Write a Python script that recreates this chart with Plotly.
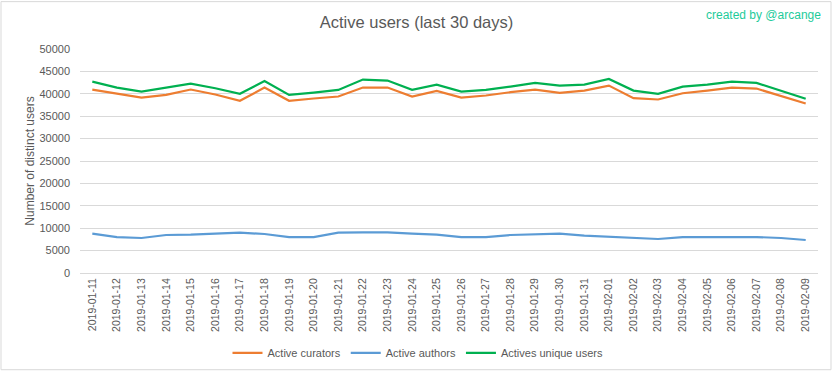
import plotly.graph_objects as go

dates = ["2019-01-11", "2019-01-12", "2019-01-13", "2019-01-14", "2019-01-15", "2019-01-16",
         "2019-01-17", "2019-01-18", "2019-01-19", "2019-01-20", "2019-01-21", "2019-01-22",
         "2019-01-23", "2019-01-24", "2019-01-25", "2019-01-26", "2019-01-27", "2019-01-28",
         "2019-01-29", "2019-01-30", "2019-01-31", "2019-02-01", "2019-02-02", "2019-02-03",
         "2019-02-04", "2019-02-05", "2019-02-06", "2019-02-07", "2019-02-08", "2019-02-09"]

active_curators = [40950, 40000, 39170, 39760, 40950, 39840, 38430, 41390, 38430, 38950,
                   39400, 41390, 41390, 39400, 40650, 39170, 39620, 40360, 40950, 40210,
                   40720, 41830, 39020, 38730, 40130, 40720, 41390, 41170, 39470, 37840]

active_authors = [8770, 8030, 7810, 8480, 8550, 8770, 8990, 8700, 8030, 8030,
                  8990, 9070, 9070, 8770, 8550, 8030, 8030, 8480, 8550, 8770,
                  8330, 8030, 7810, 7590, 8030, 8030, 8030, 8030, 7810, 7370]

unique_users = [42720, 41390, 40500, 41390, 42280, 41240, 39990, 42870, 39760, 40280,
                40870, 43170, 42950, 40870, 42060, 40500, 40870, 41610, 42430, 41830,
                42060, 43310, 40720, 39990, 41610, 42060, 42720, 42430, 40650, 38880]

y_ticks = [0, 5000, 10000, 15000, 20000, 25000, 30000, 35000, 40000, 45000, 50000]
y_tick_labels = [str(v) for v in y_ticks]

FONT = "Liberation Sans, Arial, sans-serif"
GREY = "#595959"

fig = go.Figure()
fig.add_trace(go.Scatter(x=dates, y=active_curators, mode="lines", name="Active curators",
                         line=dict(color="#ED7D31", width=2.2)))
fig.add_trace(go.Scatter(x=dates, y=active_authors, mode="lines", name="Active authors",
                         line=dict(color="#5B9BD5", width=2.2)))
fig.add_trace(go.Scatter(x=dates, y=unique_users, mode="lines", name="Actives unique users",
                         line=dict(color="#00B050", width=2.2)))

fig.update_layout(
    width=833, height=379,
    margin=dict(l=80, r=15, t=49, b=103),
    paper_bgcolor="white", plot_bgcolor="white",
    font=dict(family=FONT, color=GREY),
    title=dict(text="Active users (last 30 days)", x=0.5, xanchor="center",
               y=1 - 22 / 379, yanchor="middle", font=dict(size=16.5, color=GREY)),
    showlegend=True,
    legend=dict(orientation="h", x=(418 - 80) / 738, xanchor="center",
                y=(276 - 357) / 227, yanchor="middle", font=dict(size=11, color=GREY),
                itemwidth=30, traceorder="normal"),
    xaxis=dict(type="category", range=[-0.5, 29.5], tickangle=-90, showgrid=False,
               showline=True, linecolor="#d9d9d9", linewidth=1, ticks="",
               tickfont=dict(size=10.5, color=GREY), automargin=False),
    yaxis=dict(range=[0, 50000], tickvals=y_ticks, ticktext=y_tick_labels,
               showgrid=True, gridcolor="#d9d9d9",
               gridwidth=1, zeroline=False, showline=False, ticks="",
               tickfont=dict(size=11, color=GREY), ticklabelstandoff=9, automargin=False,
               title=dict(text="Number of distinct users", font=dict(size=12, color=GREY),
                          standoff=2)),
    shapes=[dict(type="rect", xref="paper", yref="paper",
                 x0=(1 - 80) / 738, x1=(831 - 80) / 738,
                 y0=(276 - 374) / 227, y1=(276 - 1) / 227,
                 line=dict(color="#d9d9d9", width=1), fillcolor="rgba(0,0,0,0)", layer="below")],
    annotations=[dict(text="created by @arcange", xref="paper", yref="paper",
                      x=(823 - 80) / 738, xanchor="right", y=(276 - 15) / 227, yanchor="middle",
                      showarrow=False, font=dict(size=12, color="#1DCB9A", family=FONT))],
)

fig.write_html("out.html", config={"displayModeBar": False},
               post_script="document.body.style.margin='0';")
